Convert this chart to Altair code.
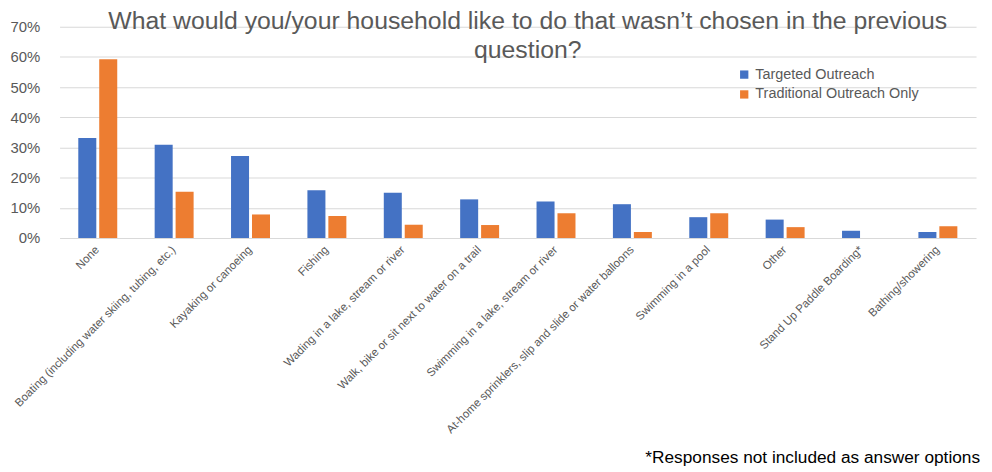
import altair as alt
import pandas as pd

categories = [
    "None",
    "Boating (including water skiing, tubing, etc.)",
    "Kayaking or canoeing",
    "Fishing",
    "Wading in a lake, stream or river",
    "Walk, bike or sit next to water on a trail",
    "Swimming in a lake, stream or river",
    "At-home sprinklers, slip and slide or water balloons",
    "Swimming in a pool",
    "Other",
    "Stand Up Paddle Boarding*",
    "Bathing/showering",
]
series = ["Targeted Outreach", "Traditional Outreach Only"]
targeted = [33.1, 30.9, 27.2, 15.8, 15.0, 12.8, 12.1, 11.2, 6.9, 6.1, 2.4, 2.0]
traditional = [59.2, 15.3, 7.8, 7.3, 4.4, 4.3, 8.2, 2.0, 8.2, 3.6, 0.0, 3.9]
colors = ["#4472C4", "#ED7D31"]
title_lines = ["What would you/your household like to do that wasn\u2019t chosen in the previous", "question?"]
footnote = "*Responses not included as answer options"

rows = []
for c, t, d in zip(categories, targeted, traditional):
    rows.append({"cat": c, "series": series[0], "val": t / 100})
    rows.append({"cat": c, "series": series[1], "val": d / 100})
df = pd.DataFrame(rows)

FONT = "Liberation Sans"
GREY = "#595959"

bars = alt.Chart(df).mark_bar().encode(
    x=alt.X("cat:N", sort=categories, title=None,
            scale=alt.Scale(paddingInner=0.49, paddingOuter=0.245),
            axis=alt.Axis(labelAngle=-45, labelAlign="right", labelBaseline="middle",
                          labelFontSize=11.6, labelColor=GREY, labelFont=FONT,
                          ticks=False, domain=False, labelPadding=10, labelLimit=400)),
    xOffset=alt.XOffset("series:N", sort=series, scale=alt.Scale(paddingInner=0.14)),
    y=alt.Y("val:Q", title=None,
            scale=alt.Scale(domain=[0, 0.7], nice=False),
            axis=alt.Axis(format=".0%", values=[0, 0.1, 0.2, 0.3, 0.4, 0.5, 0.6, 0.7],
                          labelFontSize=15, labelColor=GREY, labelFont=FONT,
                          ticks=False, domain=False, gridColor="#D9D9D9",
                          labelPadding=20)),
    color=alt.Color("series:N", sort=series,
                    scale=alt.Scale(domain=series, range=colors),
                    legend=alt.Legend(title=None, orient="none", legendX=683, legendY=41,
                                      symbolType="square", symbolSize=70,
                                      labelFontSize=14.5, labelColor=GREY, labelFont=FONT,
                                      rowPadding=5, symbolStrokeWidth=0, labelOffset=4,
                                      labelLimit=400)),
)

note = alt.Chart(pd.DataFrame({"t": [footnote]})).mark_text(
    align="right", baseline="middle", fontSize=17.4, font=FONT, color="#000000"
).encode(text="t:N", x=alt.value(928), y=alt.value(435))

chart = alt.layer(bars, note).properties(
    width=924, height=213,
    padding={"left": 52, "top": 17, "right": 8, "bottom": 232},
    autosize=alt.AutoSizeParams(type="none"),
    title=alt.TitleParams(title_lines, fontSize=25, font=FONT, color=GREY,
                          fontWeight="normal", anchor="middle", offset=-44,
                          lineHeight=30, dx=10),
).configure_view(stroke=None)

chart.save("out.html", embed_options={"renderer": "svg", "actions": False})
